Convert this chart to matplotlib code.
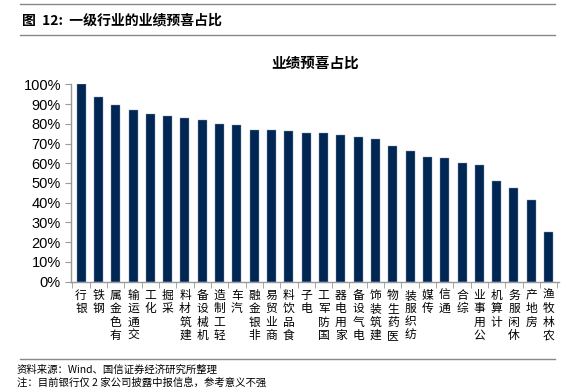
import numpy as np
import matplotlib
matplotlib.use('Agg')
import matplotlib.pyplot as plt
from matplotlib.ticker import PercentFormatter, FixedLocator

plt.rcParams['font.family'] = ['Noto Sans CJK SC', 'DejaVu Sans']

industries = ['银行', '钢铁', '有色金属', '交通运输', '化工', '采掘', '建筑材料', '机械设备',
              '轻工制造', '汽车', '非银金融', '商业贸易', '食品饮料', '电子', '国防军工', '家用电器',
              '电气设备', '建筑装饰', '医药生物', '纺织服装', '传媒', '通信', '综合', '公用事业',
              '计算机', '休闲服务', '房地产', '农林牧渔']
ratio = [100.0, 93.4, 89.5, 87.0, 84.8, 84.1, 83.1, 81.8, 80.0, 79.4, 76.9, 76.9, 76.3, 75.5,
         75.2, 74.5, 73.2, 72.3, 68.7, 66.0, 63.2, 62.7, 60.1, 59.3, 51.2, 47.6, 41.4, 25.2]

fig = plt.figure(figsize=(5.75, 3.91), dpi=100)
ax = fig.add_axes([70.7 / 575, 1 - 281.7 / 391, (559 - 70.7) / 575, (281.7 - 84.3) / 391])

x = np.arange(len(industries))
ax.bar(x, ratio, width=0.52, color='#002653', edgecolor='#8a9bb3', linewidth=0.3)

ax.set_xlim(-0.6, len(industries) - 0.4)
ax.set_ylim(0, 100)
ax.set_yticks(np.arange(0, 101, 10))
ax.yaxis.set_major_formatter(PercentFormatter(decimals=0))
ax.set_xticks(x)
# labels are written bottom-to-top, with the last character at the top
ax.set_xticklabels(['\n'.join(s[::-1]) for s in industries], fontsize=8.5, linespacing=1.05, va='top')
ax.xaxis.set_minor_locator(FixedLocator(np.arange(-0.5, len(industries), 1)))
ax.tick_params(axis='x', which='major', length=0, pad=5)
ax.tick_params(axis='x', which='minor', length=4, color='#999999', direction='out')
ax.tick_params(axis='y', length=4, color='#999999', direction='out', pad=3)
for lbl in ax.get_yticklabels():
    lbl.set_family(['Liberation Sans', 'DejaVu Sans'])
    lbl.set_fontsize(10.5)

for side in ['top', 'right']:
    ax.spines[side].set_visible(False)
for side in ['left', 'bottom']:
    ax.spines[side].set_color('#999999')
    ax.spines[side].set_linewidth(1.0)

ax.set_title('业绩预喜占比', fontsize=10.5, fontweight='bold', pad=12)

# header and footer
fig.add_artist(plt.Line2D([0.035, 0.965], [1 - 4 / 391, 1 - 4 / 391], color='#888888', lw=1))
fig.add_artist(plt.Line2D([0.035, 0.965], [1 - 35 / 391, 1 - 35 / 391], color='#888888', lw=1))
fig.text(22 / 575, 1 - 20 / 391, '图  12:  一级行业的业绩预喜占比', fontsize=10, fontweight='bold', va='center')
fig.add_artist(plt.Line2D([0.035, 0.965], [1 - 359 / 391, 1 - 359 / 391], color='#888888', lw=1))
fig.text(17 / 575, 1 - 370 / 391, '资料来源：Wind、国信证券经济研究所整理', fontsize=7.5, va='center')
fig.text(17 / 575, 1 - 383 / 391, '注：目前银行仅 2 家公司披露中报信息，参考意义不强', fontsize=7.5, va='center')

fig.savefig('out.png', dpi=100)
